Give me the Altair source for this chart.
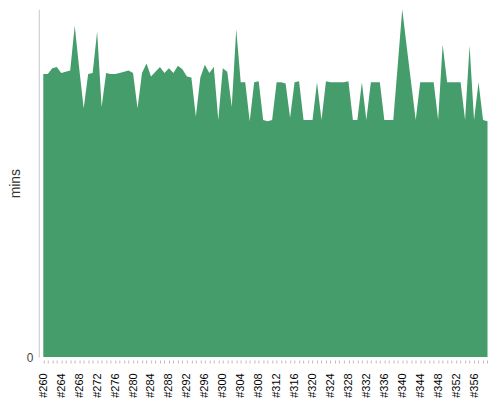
import altair as alt
import pandas as pd

builds = ["#" + str(n) for n in range(260, 360)]
mins = [
    24.0, 24.0, 24.5, 24.6, 24.1, 24.2, 24.3, 28.1, 24.5, 21.1,
    24.0, 24.1, 27.6, 21.2, 24.1, 24.0, 24.0, 24.1, 24.2, 24.3,
    24.1, 21.1, 24.1, 24.9, 23.8, 24.2, 24.6, 24.1, 24.5, 24.1,
    24.7, 24.4, 23.8, 23.7, 20.4, 23.7, 24.8, 24.1, 24.6, 20.1,
    24.5, 24.2, 21.2, 27.8, 23.3, 23.3, 20.0, 23.3, 23.4, 20.1,
    20.0, 20.1, 23.3, 23.3, 23.2, 20.3, 23.3, 23.4, 20.1, 20.1,
    20.1, 23.3, 20.1, 23.4, 23.3, 23.3, 23.3, 23.3, 23.4, 20.1,
    20.1, 23.3, 20.1, 23.3, 23.3, 23.3, 20.1, 20.1, 20.1, 24.8,
    29.5, 26.3, 23.2, 20.1, 23.3, 23.3, 23.3, 23.3, 20.1, 26.5,
    23.3, 23.3, 23.3, 23.3, 20.1, 26.4, 20.1, 23.3, 20.1, 20.0,
]

df = pd.DataFrame({"build": builds, "mins": mins})

chart = (
    alt.Chart(df)
    .mark_area(color="#459d6c", opacity=1)
    .encode(
        x=alt.X(
            "build:O",
            sort=builds,
            scale=alt.Scale(type="point", padding=1),
            axis=alt.Axis(
                title=None,
                domain=False,
                ticks=True,
                tickSize=3,
                tickColor="#bbbbbb",
                offset=3,
                labelAngle=270,
                labelFontSize=11,
                labelColor="#000000",
                labelFont="Liberation Sans",
                labelOverlap=False,
                labelPadding=10,
                labelExpr="(toNumber(substring(datum.label, 1)) - 260) % 4 == 0 ? datum.label : ''",
            ),
        ),
        y=alt.Y(
            "mins:Q",
            scale=alt.Scale(domain=[0, 29.5], nice=False),
            axis=alt.Axis(
                title="mins",
                values=[0],
                ticks=False,
                grid=False,
                domainColor="#c8c8c8",
                labelColor="#444444",
                labelFontSize=12,
                labelFont="Liberation Sans",
                labelPadding=6,
                titleFontSize=14,
                titleFontWeight="normal",
                titleColor="#333333",
                titleFont="Liberation Sans",
                titlePadding=4,
            ),
        ),
    )
    .properties(
        width=456,
        height=350,
        autosize=alt.AutoSizeParams(type="none"),
        padding={"left": 31, "top": 0, "right": 0, "bottom": 42},
    )
    .configure_view(stroke=None)
)

chart.save("out.html", embed_options={"renderer": "svg", "actions": False})
